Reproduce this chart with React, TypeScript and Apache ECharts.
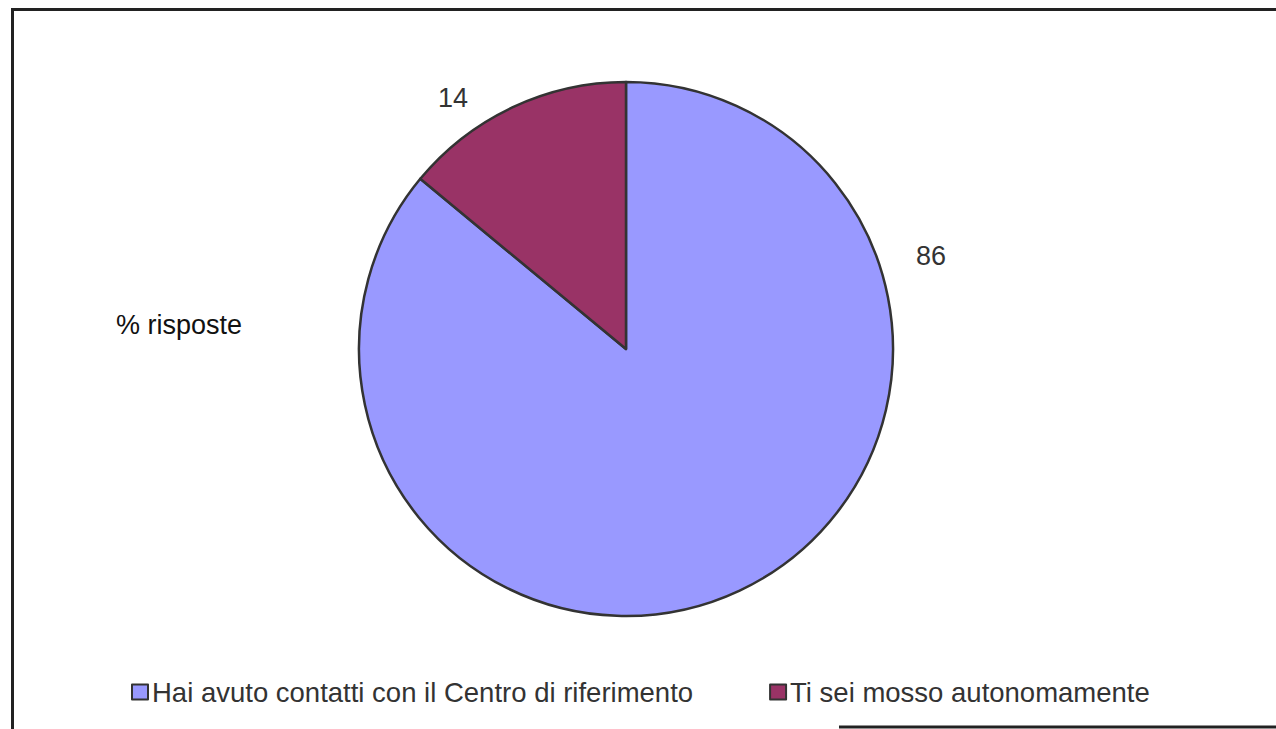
import React, { useEffect, useRef } from "react";
import * as echarts from "echarts";

const seriesName = "% risposte";
const categories = [
  "Hai avuto contatti con il Centro di riferimento",
  "Ti sei mosso autonomamente",
];
const values = [86, 14];
const colors = ["#9999FF", "#993366"];
// label anchor positions (text centres) for each slice label
const labelPositions = [
  [931, 256],
  [453, 98],
];

export default function App() {
  const ref = useRef<HTMLDivElement>(null);
  useEffect(() => {
    if (!ref.current) return;
    const chart = echarts.init(ref.current, null, { renderer: "svg" });
    const font = "'Liberation Sans', Arial, sans-serif";
    chart.setOption({
      animation: false,
      backgroundColor: "#ffffff",
      title: {
        text: seriesName,
        left: 111,
        top: 306,
        textStyle: { fontFamily: font, fontSize: 27, fontWeight: "normal", color: "#111" },
      },
      legend: {
        data: categories,
        left: 126,
        top: 673,
        orient: "horizontal",
        itemWidth: 16,
        itemHeight: 15,
        itemGap: 76,
        icon: "rect",
        textStyle: { fontFamily: font, fontSize: 27.5, color: "#333", padding: [0, 0, 0, -1] },
        itemStyle: { borderColor: "#333", borderWidth: 2 },
      },
      graphic: [
        { type: "line", shape: { x1: 11, y1: 9.5, x2: 1276, y2: 9.5 }, style: { stroke: "#222", lineWidth: 3 } },
        { type: "line", shape: { x1: 12.5, y1: 8, x2: 12.5, y2: 729 }, style: { stroke: "#222", lineWidth: 3 } },
        { type: "line", shape: { x1: 839, y1: 727, x2: 1276, y2: 727 }, style: { stroke: "#222", lineWidth: 3 } },
      ],
      series: [
        {
          type: "pie",
          name: seriesName,
          center: [626, 349],
          radius: 267,
          startAngle: 90,
          clockwise: true,
          data: categories.map((c, i) => ({
            name: c,
            value: values[i],
            itemStyle: { color: colors[i] },
          })),
          itemStyle: { borderColor: "#333", borderWidth: 2.5 },
          label: {
            show: true,
            position: "outside",
            formatter: "{c}",
            fontFamily: font,
            fontSize: 27,
            color: "#333",
          },
          labelLine: { show: false },
          labelLayout: (p: any) => ({
            x: labelPositions[p.dataIndex][0],
            y: labelPositions[p.dataIndex][1],
            align: "center",
            verticalAlign: "middle",
          }),
          emphasis: { disabled: true },
        },
      ],
    });
    return () => chart.dispose();
  }, []);
  return (
    <div
      ref={ref}
      style={{ position: "absolute", left: 0, top: 0, width: 1276, height: 729 }}
    />
  );
}
